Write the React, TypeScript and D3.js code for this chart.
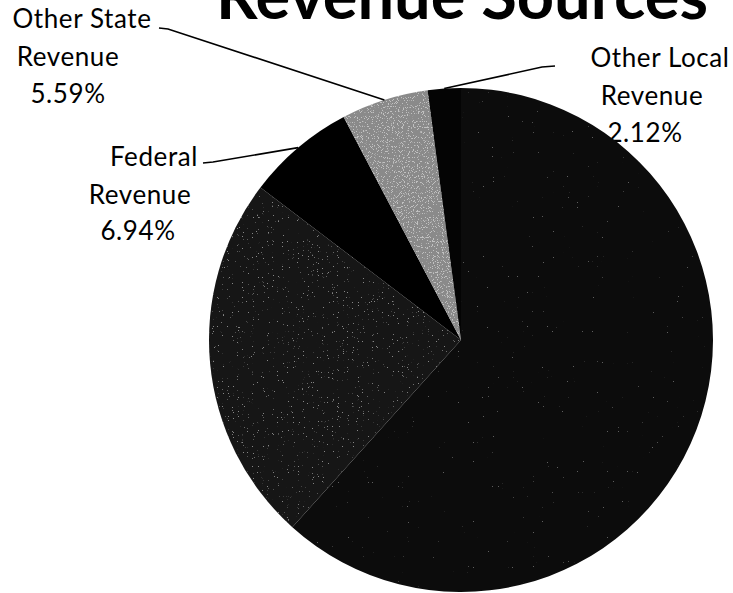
import React from "react";
import * as d3 from "d3";

// ---- data ----
const categories = [
  "Local Revenue",
  "State Revenue",
  "Federal Revenue",
  "Other State Revenue",
  "Other Local Revenue",
];
const values = [61.67, 23.68, 6.94, 5.59, 2.12];
const labelNames = [null, null, ["Federal", "Revenue"], ["Other State", "Revenue"], ["Other Local", "Revenue"]];
const title = "Revenue Sources";

// ---- styles ----
const sliceStyle = [
  { in: "#040404", out: "#0c0c0c", dot: "#6e6e6e", a0: 0.5, a1: 0.85, t: 0.76 },
  { in: "#060606", out: "#161616", dot: "#8c8c8c", a0: 0.25, a1: 0.95, t: 0.7 },
  { in: "#000000", out: "#000000", dot: "#444444", a0: 0.3, a1: 0.6, t: 0.86 },
  { in: "#1c1c1c", out: "#8a8a8a", dot: "#c4c4c4", a0: 0.2, a1: 0.95, t: 0.6 },
  { in: "#000000", out: "#040404", dot: "#444444", a0: 0.3, a1: 0.6, t: 0.86 },
];

// label layout (line centers / baselines, leader elbow and end)
const labelLayout: Record<number, { cx: number[]; y: number[]; elbow: [number, number]; end: [number, number] }> = {
  2: { cx: [154, 140, 138], y: [166, 204, 240], elbow: [213, 162], end: [203, 163] },
  3: { cx: [82, 68, 68], y: [28, 66, 103], elbow: [168, 29], end: [159, 28] },
  4: { cx: [660, 652, 645], y: [67, 105, 142], elbow: [542, 67], end: [555, 66] },
};

export default function App() {
  const W = 733;
  const H = 593;
  const cx = 461;
  const cy = 340;
  const r = 252;

  const pie = d3.pie<number>().sort(null).value((d) => d)(values);
  const arc = d3.arc<d3.PieArcDatum<number>>().innerRadius(0).outerRadius(r);
  const rimArc = d3.arc<d3.PieArcDatum<number>>().innerRadius(r).outerRadius(r);
  const fmt = d3.format(".2f");
  const font = "Lato, 'Open Sans', sans-serif";

  return (
    <svg
      width={W}
      height={H}
      viewBox={`0 0 ${W} ${H}`}
      style={{ position: "absolute", left: 0, top: 0, background: "#fff" }}
    >
      <defs>
        {sliceStyle.map((s, i) => (
          <React.Fragment key={i}>
            <radialGradient id={`b${i}`} gradientUnits="userSpaceOnUse" cx={cx} cy={cy} r={r}>
              <stop offset="0" stopColor={s.in} />
              <stop offset="1" stopColor={s.out} />
            </radialGradient>
            <radialGradient id={`g${i}`} gradientUnits="userSpaceOnUse" cx={cx} cy={cy} r={r}>
              <stop offset="0" stopColor={s.dot} stopOpacity={s.a0} />
              <stop offset="1" stopColor={s.dot} stopOpacity={s.a1} />
            </radialGradient>
            <filter id={`f${i}`} x="0" y="0" width="100%" height="100%" colorInterpolationFilters="sRGB">
              <feTurbulence type="fractalNoise" baseFrequency="1.2" numOctaves="1" seed={i * 7 + 3} result="n" />
              <feColorMatrix
                in="n"
                type="matrix"
                values={`0 0 0 0 0  0 0 0 0 0  0 0 0 0 0  25 0 0 0 ${-25 * s.t}`}
                result="m"
              />
              <feComposite in="SourceGraphic" in2="m" operator="in" />
            </filter>
          </React.Fragment>
        ))}
      </defs>

      {/* labels first so the pie overlaps them like the original */}
      {pie.map((d, i) => {
        const names = labelNames[i];
        const lay = labelLayout[i];
        if (!names || !lay) return null;
        const lines = [names[0], names[1], `${fmt(values[i])}%`];
        return (
          <g key={`t${i}`}>
            {lines.map((t, j) => (
              <text
                key={j}
                x={lay.cx[j]}
                y={lay.y[j]}
                textAnchor="middle"
                fontFamily={font}
                fontSize={26}
                letterSpacing={0.6}
                fill="#000"
              >
                {t}
              </text>
            ))}
          </g>
        );
      })}

      {pie.map((d, i) => (
        <path
          key={`b${i}`}
          d={arc(d) || ""}
          transform={`translate(${cx},${cy})`}
          fill={`url(#b${i})`}
        />
      ))}
      {pie.map((d, i) => (
        <path
          key={`s${i}`}
          d={arc(d) || ""}
          transform={`translate(${cx},${cy})`}
          fill={`url(#g${i})`}
          filter={`url(#f${i})`}
        />
      ))}

      {pie.map((d, i) => {
        const lay = labelLayout[i];
        if (!lay) return null;
        const [px, py] = rimArc.centroid(d);
        const start: [number, number] = [cx + px, cy + py];
        const pts = [start, lay.elbow, lay.end];
        return <path key={`l${i}`} d={d3.line()(pts) || ""} fill="none" stroke="#000" strokeWidth={1.6} />;
      })}

      <text
        x={462}
        y={19}
        textAnchor="middle"
        fontFamily={font}
        fontWeight={700}
        fontSize={65}
        fill="#000"
      >
        {title}
      </text>
    </svg>
  );
}
